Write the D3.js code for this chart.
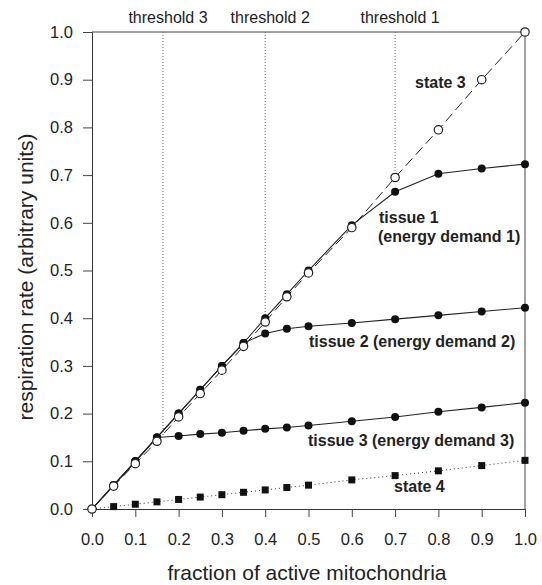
<!DOCTYPE html>
<html>
<head>
<meta charset="utf-8">
<script src="https://cdn.jsdelivr.net/npm/d3@7"></script>
<style>
  body { margin: 0; background: #fff; }
  svg { font-family: "Liberation Sans", Arial, sans-serif; }
  .tick text { font-size: 16.5px; fill: #222; }
  .lbl { font-weight: bold; font-size: 16px; fill: #222; }
</style>
</head>
<body>
<svg></svg>
<script>
var width = 542;
var height = 585;

var fractions = [0, 0.05, 0.1, 0.15, 0.2, 0.25, 0.3, 0.35, 0.4, 0.45, 0.5, 0.6, 0.7, 0.8, 0.9, 1.0];
var state3  = [0, 0.048, 0.095, 0.142, 0.193, 0.242, 0.291, 0.341, 0.392, 0.445, 0.495, 0.59, 0.695, 0.795, 0.9, 1.0];
var tissue1 = [0, 0.05, 0.1, 0.15, 0.2, 0.25, 0.3, 0.348, 0.4, 0.45, 0.5, 0.595, 0.665, 0.703, 0.714, 0.723];
var tissue2 = [0, 0.05, 0.1, 0.15, 0.2, 0.25, 0.3, 0.348, 0.368, 0.378, 0.383, 0.39, 0.398, 0.406, 0.414, 0.422];
var tissue3 = [0, 0.05, 0.1, 0.15, 0.153, 0.157, 0.16, 0.164, 0.168, 0.171, 0.175, 0.184, 0.193, 0.204, 0.213, 0.223];
var state4  = [0, 0.005, 0.01, 0.015, 0.02, 0.025, 0.03, 0.035, 0.04, 0.045, 0.05, 0.061, 0.07, 0.08, 0.091, 0.102];

var thresholds = [0.164, 0.4, 0.7];
var thresholdLow = [0.155, 0.397, 0.695];
var thresholdNames = ['threshold 3', 'threshold 2', 'threshold 1'];

var tickValues = [0, 0.1, 0.2, 0.3, 0.4, 0.5, 0.6, 0.7, 0.8, 0.9, 1.0];

var svg = d3.select('svg')
            .attr('width', width)
            .attr('height', height);

var xScale = d3.scaleLinear().domain([0, 1]).range([92, 525]);
var yScale = d3.scaleLinear().domain([0, 1]).range([509, 32]);

function pts(ys) {
  return fractions.map(function(x, i) { return [x, ys[i]]; });
}

var line = d3.line()
             .x(d => xScale(d[0]))
             .y(d => yScale(d[1]));

// frame: top and right border
svg.append('line')
   .attr('x1', xScale(0)).attr('x2', xScale(1))
   .attr('y1', yScale(1)).attr('y2', yScale(1))
   .attr('stroke', '#444').attr('stroke-width', 1);
svg.append('line')
   .attr('x1', xScale(1)).attr('x2', xScale(1))
   .attr('y1', yScale(0)).attr('y2', yScale(1))
   .attr('stroke', '#444').attr('stroke-width', 1);

// threshold lines
svg.selectAll('.thr')
   .data(thresholds)
   .enter()
   .append('line')
     .attr('class', 'thr')
     .attr('x1', d => xScale(d)).attr('x2', d => xScale(d))
     .attr('y1', yScale(1))
     .attr('y2', (d, i) => yScale(thresholdLow[i]))
     .attr('stroke', '#666')
     .attr('stroke-width', 1)
     .attr('stroke-dasharray', '1,2');

svg.selectAll('.thrlbl')
   .data(thresholds)
   .enter()
   .append('text')
     .attr('x', d => xScale(d) + 5)
     .attr('y', 23)
     .attr('text-anchor', 'middle')
     .style('font-size', '16px')
     .attr('fill', '#222')
     .text((d, i) => thresholdNames[i]);

// axes
svg.append('g')
   .attr('transform', `translate(0, ${yScale(0)})`)
   .call(d3.axisBottom(xScale).tickValues(tickValues).tickFormat(d3.format('.1f')).tickSize(8).tickPadding(16));
svg.append('g')
   .attr('transform', `translate(${xScale(0)}, 0)`)
   .call(d3.axisLeft(yScale).tickValues(tickValues).tickFormat(d3.format('.1f')).tickSize(9).tickPadding(10));
svg.selectAll('.domain').attr('stroke', '#333');
svg.selectAll('.tick line').attr('stroke', '#444');

// series lines
svg.append('path').datum(pts(state3))
   .attr('d', line).attr('fill', 'none')
   .attr('stroke', '#222').attr('stroke-width', 1)
   .attr('stroke-dasharray', '10,5');
[tissue1, tissue2, tissue3].forEach(function(s) {
  svg.append('path').datum(pts(s))
     .attr('d', line).attr('fill', 'none')
     .attr('stroke', '#222').attr('stroke-width', 1.1);
});
svg.append('path').datum(pts(state4))
   .attr('d', line).attr('fill', 'none')
   .attr('stroke', '#333').attr('stroke-width', 1)
   .attr('stroke-dasharray', '1,3');

// markers
svg.selectAll('.sq')
   .data(pts(state4).slice(1))
   .enter()
   .append('rect')
     .attr('x', d => xScale(d[0]) - 3.5)
     .attr('y', d => yScale(d[1]) - 3.5)
     .attr('width', 7).attr('height', 7)
     .attr('fill', '#111');

[tissue3, tissue2, tissue1].forEach(function(s) {
  svg.selectAll(null)
     .data(pts(s).slice(1))
     .enter()
     .append('circle')
       .attr('cx', d => xScale(d[0]))
       .attr('cy', d => yScale(d[1]))
       .attr('r', 4)
       .attr('fill', '#111');
});

svg.selectAll('.open')
   .data(pts(state3))
   .enter()
   .append('circle')
     .attr('cx', d => xScale(d[0]))
     .attr('cy', d => yScale(d[1]))
     .attr('r', 4.2)
     .attr('fill', '#fff')
     .attr('stroke', '#222')
     .attr('stroke-width', 1.2);

// series labels
var labels = [
  { t: 'state 3', x: 415, y: 88 },
  { t: 'tissue 1', x: 379, y: 223 },
  { t: '(energy demand 1)', x: 378, y: 242 },
  { t: 'tissue 2 (energy demand 2)', x: 309, y: 347 },
  { t: 'tissue 3 (energy demand 3)', x: 308, y: 446 },
  { t: 'state 4', x: 394, y: 492 }
];
svg.selectAll('.lbl')
   .data(labels)
   .enter()
   .append('text')
     .attr('class', 'lbl')
     .attr('x', d => d.x)
     .attr('y', d => d.y)
     .text(d => d.t);

// axis titles
svg.append('text')
   .attr('x', 307)
   .attr('y', 580)
   .attr('text-anchor', 'middle')
   .style('font-size', '21px')
   .attr('fill', '#222')
   .text('fraction of active mitochondria');

svg.append('text')
   .attr('transform', 'translate(33, 277) rotate(-90)')
   .attr('text-anchor', 'middle')
   .style('font-size', '21px')
   .attr('fill', '#222')
   .text('respiration rate (arbitrary units)');
</script>
</body>
</html>
